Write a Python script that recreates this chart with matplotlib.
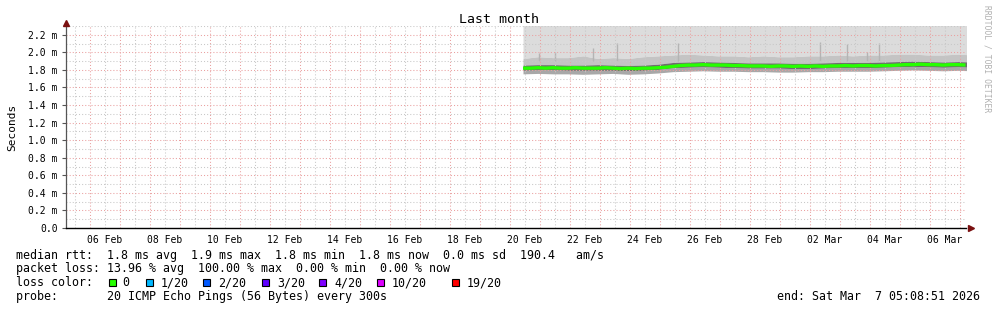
import matplotlib
matplotlib.use("Agg")
import matplotlib.pyplot as plt
import matplotlib.dates as mdates
from matplotlib.patches import Rectangle
import pandas as pd
import numpy as np

# ---------------- data ----------------
title = "Last month"
ylabel = "Seconds"
start_time = "2026-02-05 05:08:51"
end_time = "2026-03-07 05:08:51"

# median RTT (ms), every 6 h from 2026-02-20 10:45
median_rtt = [1.820, 1.820, 1.825, 1.820, 1.825, 1.820, 1.820, 1.825, 1.820, 1.820,
              1.820, 1.825, 1.820, 1.815, 1.820, 1.815, 1.820, 1.820, 1.825, 1.830,
              1.840, 1.850, 1.855, 1.855, 1.860, 1.855, 1.855, 1.855, 1.850, 1.850,
              1.845, 1.845, 1.845, 1.840, 1.845, 1.845, 1.840, 1.845, 1.840, 1.845,
              1.840, 1.845, 1.845, 1.850, 1.845, 1.850, 1.850, 1.845, 1.850, 1.850,
              1.855, 1.860, 1.860, 1.865, 1.860, 1.860, 1.855, 1.860, 1.860, 1.855]

# smoke bands (ms), every 12 h from 2026-02-20 10:45
smoke_lo_outer = [1.755, 1.760, 1.755, 1.755, 1.750, 1.755, 1.760, 1.750, 1.755, 1.765,
                  1.780, 1.785, 1.790, 1.785, 1.785, 1.780, 1.780, 1.775, 1.775, 1.780,
                  1.780, 1.785, 1.785, 1.785, 1.790, 1.795, 1.800, 1.795, 1.790, 1.795, 1.790]
smoke_lo_inner = [1.795, 1.800, 1.800, 1.795, 1.795, 1.795, 1.795, 1.790, 1.795, 1.805,
                  1.825, 1.830, 1.835, 1.830, 1.825, 1.820, 1.820, 1.820, 1.815, 1.815,
                  1.820, 1.825, 1.825, 1.825, 1.830, 1.835, 1.840, 1.835, 1.830, 1.835, 1.830]
smoke_hi_inner = [1.855, 1.860, 1.860, 1.855, 1.855, 1.860, 1.855, 1.850, 1.855, 1.865,
                  1.885, 1.890, 1.895, 1.890, 1.885, 1.880, 1.880, 1.880, 1.875, 1.875,
                  1.880, 1.885, 1.885, 1.885, 1.890, 1.895, 1.900, 1.895, 1.890, 1.895, 1.890]
smoke_hi_outer = [1.930, 1.950, 1.940, 1.940, 1.960, 1.930, 1.940, 1.930, 1.950, 1.960,
                  1.970, 1.980, 1.970, 1.960, 1.960, 1.950, 1.960, 1.950, 1.950, 1.960,
                  1.960, 1.970, 1.960, 1.970, 1.970, 1.980, 1.980, 1.970, 1.970, 1.980, 1.970]
smoke_max = 2.5  # max pings run beyond the top of the chart

# occasional high ping spikes
spike_times = ["2026-02-20 23:12", "2026-02-21 12:00", "2026-02-22 18:24",
               "2026-02-23 13:36", "2026-02-25 14:24", "2026-03-02 08:00",
               "2026-03-03 05:36", "2026-03-03 21:36", "2026-03-04 07:12"]
spike_values = [1.99, 2.00, 2.05, 2.11, 2.11, 2.12, 2.09, 2.00, 2.11]
spike_base = 1.90

y_ticks = [0.0, 0.2, 0.4, 0.6, 0.8, 1.0, 1.2, 1.4, 1.6, 1.8, 2.0, 2.2]
y_tick_labels = ["0.0", "0.2 m", "0.4 m", "0.6 m", "0.8 m", "1.0 m", "1.2 m",
                 "1.4 m", "1.6 m", "1.8 m", "2.0 m", "2.2 m"]

legend_rtt = "median rtt:  1.8 ms avg  1.9 ms max  1.8 ms min  1.8 ms now  0.0 ms sd  190.4   am/s"
legend_loss = "packet loss: 13.96 % avg  100.00 % max  0.00 % min  0.00 % now"
loss_color_title = "loss color:"
loss_labels = ["0", "1/20", "2/20", "3/20", "4/20", "10/20", "19/20"]
loss_colors = ["#26ff00", "#00b8ff", "#0059ff", "#5e00ff", "#7e00ff", "#dd00ff", "#ff0000"]
probe_text = "probe:       20 ICMP Echo Pings (56 Bytes) every 300s"
end_text = "end: Sat Mar  7 05:08:51 2026"
watermark = "RRDTOOL / TOBI OETIKER"

# ---------------- figure ----------------
W, H = 997, 310
MONO = "DejaVu Sans Mono"
plt.rcParams["font.family"] = MONO

fig = plt.figure(figsize=(W / 100, H / 100), dpi=100)
fig.patch.set_facecolor("white")
ax = fig.add_axes([66 / W, 82 / H, 900 / W, 202 / H])

t_med = pd.date_range("2026-02-20 10:45", periods=len(median_rtt), freq="6h").to_pydatetime()
t_smk = pd.date_range("2026-02-20 10:45", periods=len(smoke_hi_outer), freq="12h").to_pydatetime()

# smoke
ax.fill_between(t_smk, smoke_hi_outer, smoke_max, color="#dcdcdc", lw=0, zorder=1)
ax.fill_between(t_smk, smoke_hi_inner, smoke_hi_outer, color="#c4c4c4", lw=0, zorder=1)
ax.fill_between(t_smk, smoke_lo_inner, smoke_hi_inner, color="#6e6e6e", lw=0, zorder=1.1)
ax.fill_between(t_smk, smoke_lo_outer, smoke_lo_inner, color="#a8a8a8", lw=0, zorder=1)
ax.vlines(pd.to_datetime(spike_times).to_pydatetime(), spike_base, spike_values,
          color="#b4b4b4", lw=1.0, zorder=1.05)

# median line
ax.plot(t_med, median_rtt, color="#26ff00", lw=2.4, zorder=3, solid_capstyle="butt")

# axes limits
ax.set_xlim(pd.Timestamp(start_time).to_pydatetime(), pd.Timestamp(end_time).to_pydatetime())
ax.set_ylim(0, 2.3)

# grid: minor gray, major red (dotted)
days = pd.date_range("2026-02-06", "2026-03-07", freq="D").to_pydatetime()
noons = pd.date_range("2026-02-05 12:00", "2026-03-06 12:00", freq="D").to_pydatetime()
gkw = dict(lw=0.75, ls=(0, (1, 2)), zorder=2)
for d in noons:
    ax.axvline(d, color="#c8c8c8", **gkw)
for d in days:
    ax.axvline(d, color="#eaa0a0", **gkw)
for v in np.arange(0.1, 2.31, 0.2):
    ax.axhline(v, color="#c8c8c8", **gkw)
for v in y_ticks[1:]:
    ax.axhline(v, color="#eaa0a0", **gkw)

# spines
for s in ["top", "right"]:
    ax.spines[s].set_visible(False)
ax.spines["left"].set_color("#555555")
ax.spines["left"].set_linewidth(0.9)
ax.spines["bottom"].set_color("black")
ax.spines["bottom"].set_linewidth(1.0)

# ticks
ax.set_yticks(y_ticks)
ax.set_yticklabels(y_tick_labels)
ax.tick_params(axis="y", length=3, width=0.8, pad=3, labelsize=7, color="#555555")
label_days = pd.date_range("2026-02-06 12:00", "2026-03-06 12:00", freq="2D").to_pydatetime()
ax.set_xticks(label_days)
ax.xaxis.set_major_formatter(mdates.DateFormatter("%d %b"))
ax.tick_params(axis="x", length=0, pad=5, labelsize=7)

# arrows
ax.plot([0], [1 + 3 / 202], marker="^", color="#7a1010", markersize=4,
        transform=ax.transAxes, clip_on=False, zorder=5)
ax.plot([1 + 5 / 900], [0], marker=">", color="#7a1010", markersize=4,
        transform=ax.transAxes, clip_on=False, zorder=5)

# labels
ax.set_ylabel(ylabel, fontsize=8, labelpad=8)
fig.text(0.5, 1 - 19.5 / H, title, ha="center", va="center", fontsize=9.5)
fig.text(987 / W, 1 - 59 / H, watermark, rotation=270, ha="center", va="center",
         fontsize=5.8, color="#b0b0b0")

def fy(y):
    return 1 - y / H

fs = 8.4
fig.text(16 / W, fy(255), legend_rtt, ha="left", va="center", fontsize=fs)
fig.text(16 / W, fy(268.5), legend_loss, ha="left", va="center", fontsize=fs)
fig.text(16 / W, fy(282.5), loss_color_title, ha="left", va="center", fontsize=fs)
box_x = [109, 146, 203, 262, 319, 377, 452]
lab_x = [122, 161, 218, 277, 334, 392, 467]
for bx, lx, c, lab in zip(box_x, lab_x, loss_colors, loss_labels):
    fig.add_artist(Rectangle((bx / W, fy(285.5)), 7 / W, 7 / H, transform=fig.transFigure,
                             facecolor=c, edgecolor="black", lw=0.8))
    fig.text(lx / W, fy(282.5), lab, ha="left", va="center", fontsize=fs)
fig.text(16 / W, fy(296.5), probe_text, ha="left", va="center", fontsize=fs)
fig.text(980 / W, fy(296.5), end_text, ha="right", va="center", fontsize=fs)

fig.savefig("out.png", dpi=100, facecolor="white")
